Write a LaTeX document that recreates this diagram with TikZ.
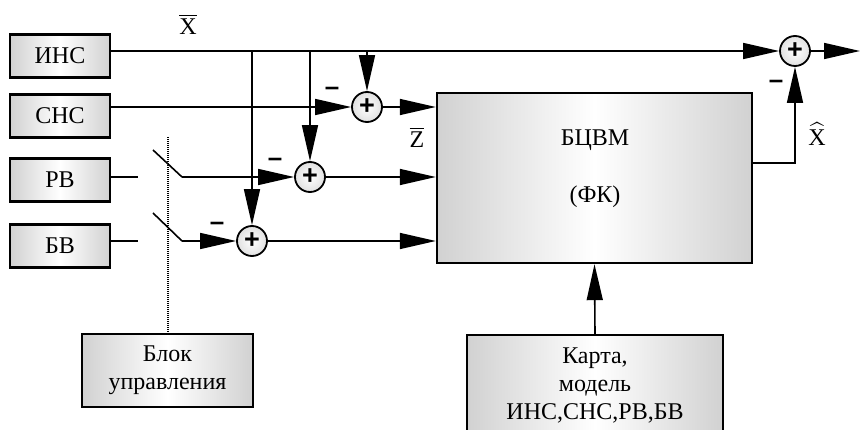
\documentclass[tikz,border=0pt]{standalone}
\usepackage{amsmath}
\usepackage{fontspec}
\setmainfont{Liberation Serif}
\newfontfamily\signfont{Liberation Sans}
\usetikzlibrary{arrows.meta,calc}
\definecolor{EdgeClr}{rgb}{0.82,0.82,0.82}
\definecolor{RimClr}{rgb}{0.88,0.88,0.88}

\tikzset{
  blk/.style={draw,line width=2.4pt,left color=EdgeClr,right color=EdgeClr,middle color=white,inner sep=0pt},
  sumnd/.style={draw,circle,line width=1.8pt,minimum size=30pt,inner sep=0pt,inner color=white,outer color=RimClr,font=\signfont\bfseries\fontsize{27}{27}\selectfont},
  sig/.style={line width=1.6pt},
  arr/.style={sig,-{Triangle[length=36pt,width=16pt]}},
  minus/.style={inner sep=0pt,font=\signfont\bfseries\fontsize{26}{26}\selectfont}
}

\begin{document}
\begin{tikzpicture}[x=1pt,y=-1pt,font=\fontsize{24}{28}\selectfont]
\useasboundingbox (0,0) rectangle (860,430);

% sensors
\node[blk,minimum width=100pt,minimum height=43pt] (ins) at (60,56) {ИНС};
\node[blk,minimum width=100pt,minimum height=43pt] (sns) at (60,116) {СНС};
\node[blk,minimum width=100pt,minimum height=43pt] (rv) at (60,180) {РВ};
\node[blk,minimum width=100pt,minimum height=43pt] (bv) at (60,246) {БВ};

% computer, control, map
\node[blk,minimum width=315pt,minimum height=170pt] (bcvm) at (594.5,178) {};
\node (tb) at (595,140) {БЦВМ};
\node (tf) at (595,197) {(ФК)};
\node[blk,minimum width=171pt,minimum height=73pt,align=center] (bu) at (167.5,370.5) {Блок\\управления};
\node[blk,minimum width=256pt,minimum height=100pt,align=center] (map) at (595,385) {Карта,\\модель\\ИНС,СНС,РВ,БВ};

% summators
\node[sumnd] (s1) at (367,107) {+};
\node[sumnd] (s2) at (310,177) {+};
\node[sumnd] (s3) at (252,241) {+};
\node[sumnd] (s4) at (795,51) {+};

% switches
\coordinate (r0) at (138,177);
\coordinate (r1) at (153,150);
\coordinate (r2) at (182,177);
\coordinate (b0) at (138,241);
\coordinate (b1) at (153,213);
\coordinate (b2) at (182,241);
\coordinate (d0) at (167.5,137);
\coordinate (out) at (860,51);

\draw[arr] (ins.east |- s4) -- (s4.west);
\draw[arr] (s4.east) -- (out);
\draw[arr] (sns.east |- s1) -- (s1.west);
\draw[sig] (rv.east |- r0) -- (r0);
\draw[sig] (r1) -- (r2);
\draw[arr] (r2) -- (s2.west);
\draw[sig] (bv.east |- b0) -- (b0);
\draw[sig] (b1) -- (b2);
\draw[arr] (b2) -- (s3.west);

\draw[arr] (s3 |- s4) -- (s3.north);
\draw[arr] (s2 |- s4) -- (s2.north);
\draw[arr] (s1 |- s4) -- (s1.north);

\draw[arr] (s1.east) -- (s1 -| bcvm.west);
\draw[arr] (s2.east) -- (s2 -| bcvm.west);
\draw[arr] (s3.east) -- (s3 -| bcvm.west);
\draw[arr] ([yshift=15pt]bcvm.east) -| (s4.south);
\draw[arr] (map.north) -- (bcvm.south);
\draw[line width=2pt,dash pattern=on 1pt off 1pt] (d0) -- (bu.north);

% signs and labels
\node[minus] (m1) at (332,91) {–};
\node[minus] (m2) at (275,162) {–};
\node[minus] (m3) at (217,226) {–};
\node[minus] (m4) at (776,84) {–};
\node (lx) at (188,24) {$\overline{\text{X}}$};
\node (lz) at (417,137) {$\overline{\text{Z}}$};
\node (lh) at (817,134) {$\widehat{\text{X}}$};

\end{tikzpicture}
\end{document}
